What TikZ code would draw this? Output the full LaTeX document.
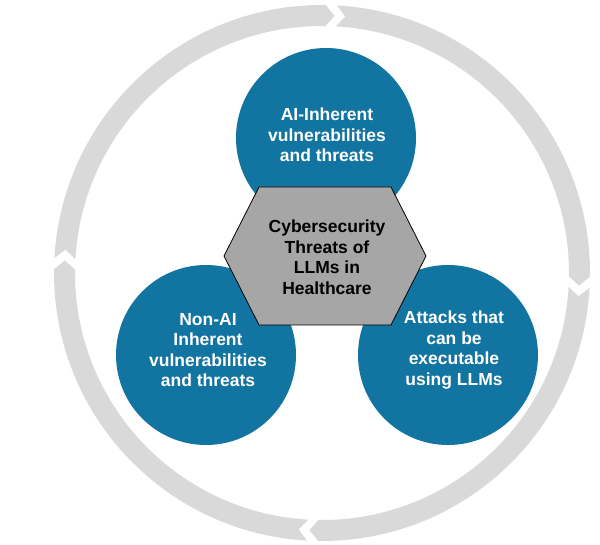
\documentclass[tikz,border=0pt]{standalone}
\usepackage{fontspec}
\setmainfont{Liberation Sans}
\begin{document}
\begin{tikzpicture}[x=1pt,y=1pt,
  bub/.style={circle,fill=teal1,minimum size=180pt,inner sep=0pt},
  btxt/.style={text=white,font=\bfseries\fontsize{17.5}{20.5}\selectfont,align=center},
  seg/.style={fill=ringgray,draw=none}]
\definecolor{teal1}{RGB}{18,116,160}
\definecolor{ringgray}{RGB}{217,217,217}
\definecolor{hexgray}{RGB}{166,166,166}
\useasboundingbox (-322,-272) rectangle (278,273);
\def\ro{268}\def\ri{247}\def\rm{257.5}
\foreach \s/\e in {86.8/-0.8, 176.8/89.2, 266.8/179.2, 356.8/269.2}{
  \pgfmathsetmacro{\tp}{\e-2.0}
  \pgfmathsetmacro{\np}{\s-2.0}
  \fill[ringgray] (\s:\ro) arc[start angle=\s,end angle=\e,radius=\ro] -- (\tp:\rm) -- (\e:\ri)
     arc[start angle=\e,end angle=\s,radius=\ri] -- (\np:\rm) -- cycle;
}
\node[bub] (top) at (4,135) {};
\node[bub] (left) at (-116,-82) {};
\node[bub] (right) at (126,-82) {};
\draw[fill=hexgray,draw=black,line width=0.8pt] (-98,17) -- (-63,86) -- (69,86) -- (104,17) -- (69,-52) -- (-63,-52) -- cycle;
\node (hex) at (3,17) {};
\node[btxt] (ttop) at (5,138) {AI-Inherent\\vulnerabilities\\and threats};
\node[btxt] (tleft) at (-114,-77) {Non-AI\\Inherent\\vulnerabilities\\and threats};
\node[btxt] (tright) at (132,-77) {Attacks that\\can be\\executable\\using LLMs};
\node[font=\bfseries\fontsize{17.5}{20.5}\selectfont,align=center] (thex) at (5,16) {Cybersecurity\\Threats of\\LLMs in\\Healthcare};
\end{tikzpicture}
\end{document}
